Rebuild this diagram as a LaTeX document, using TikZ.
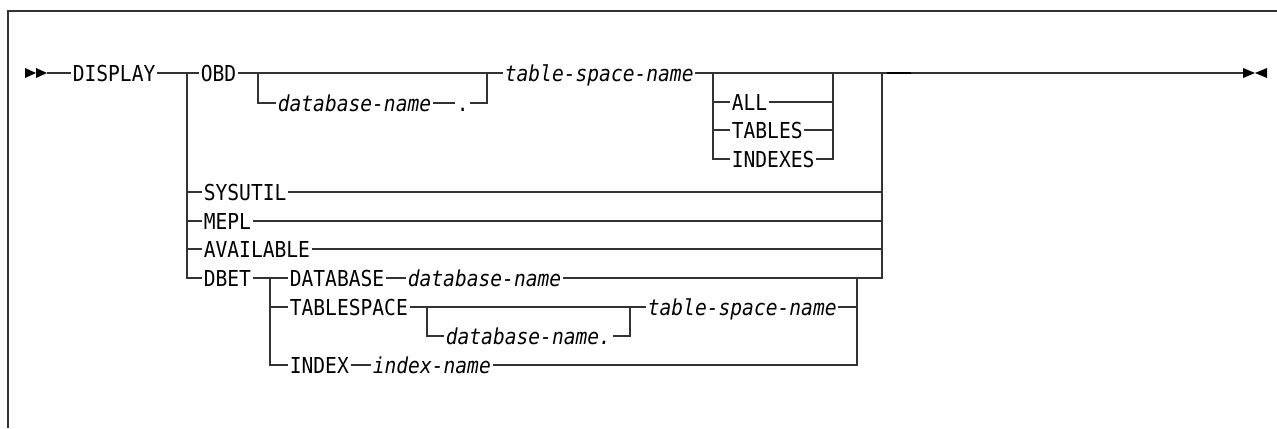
\documentclass[tikz,border=0pt]{standalone}
\usepackage{fontspec}
\usepackage{graphicx}
\newfontfamily\railfont{DejaVu Sans Mono}
\newcommand{\rw}[1]{\scalebox{1}[1.12]{#1}}

\begin{document}
\begin{tikzpicture}[x=0.5pt,y=-0.5pt,line width=0.8pt,draw=black!80,
    kw/.style={anchor=west,inner xsep=0.5pt,inner ysep=0pt,text height=8pt,text depth=0pt,
      font={\railfont\fontsize{9.8}{12}\selectfont}},
    var/.style={kw,font={\railfont\itshape\fontsize{9.8}{12}\selectfont}}]

      \useasboundingbox (0,0) rectangle (1277,428);

      % Frame
      \draw (8,428) -- (8,11) -- (1277,11);

      % Start and end marks
      \fill (25,68) -- (36,73) -- (25,78) -- cycle;
      \fill (36,68) -- (47,73) -- (36,78) -- cycle;
      \fill (1243,68) -- (1255,73) -- (1243,78) -- cycle;
      \fill (1267,68) -- (1255,73) -- (1267,78) -- cycle;
      \coordinate (start) at (47,73);
      \coordinate (finish) at (1243,73);

      % Junctions
      \coordinate (j1) at (187,73);
      \coordinate (j2) at (258,73);
      \coordinate (j3) at (487,73);
      \coordinate (j4) at (713,73);
      \coordinate (j5) at (833,73);
      \coordinate (j6) at (882,73);
      \coordinate (j7) at (270,278);
      \coordinate (j8) at (427,307);
      \coordinate (j9) at (630,307);
      \coordinate (j10) at (857,278);

      % Keywords and names
      \node[kw] (display) at (71,73) {\rw{DISPLAY}};
      \node[kw] (obd) at (199,73) {\rw{OBD}};
      \node[var] (dbname) at (276,103) {\rw{database-name}};
      \node[kw] (dot) at (455,103) {\rw{.}};
      \node[var] (tsname) at (503,73) {\rw{table-space-name}};
      \node[kw] (all) at (730,102) {\rw{ALL}};
      \node[kw] (tables) at (730,130) {\rw{TABLES}};
      \node[kw] (indexes) at (730,159) {\rw{INDEXES}};
      \node[kw] (sysutil) at (202,192) {\rw{SYSUTIL}};
      \node[kw] (mepl) at (202,221) {\rw{MEPL}};
      \node[kw] (avail) at (202,249) {\rw{AVAILABLE}};
      \node[kw] (dbet) at (202,278) {\rw{DBET}};
      \node[kw] (database) at (288,278) {\rw{DATABASE}};
      \node[var] (dbname2) at (406,278) {\rw{database-name}};
      \node[kw] (tblspace) at (288,307) {\rw{TABLESPACE}};
      \node[var] (dbname3) at (444,336) {\rw{database-name.}};
      \node[var] (tsname2) at (646,307) {\rw{table-space-name}};
      \node[kw] (index) at (288,365) {\rw{INDEX}};
      \node[var] (idxname) at (371,365) {\rw{index-name}};

      % Main line
      \draw (start) -- (display.west);
      \draw (display.east) -- (j1) -- (obd.west);
      \draw (obd.east) -- (j2) -- (j3) -- (tsname.west);
      \draw (j2) |- (dbname.west);
      \draw (dbname.east) -- (dot.west);
      \draw (dot.east) -| (j3);
      \draw (tsname.east) -- (j4) -- (j5) -- (j6) -- (finish);
      \draw[line width=1.4pt,black] (887,73) -- (911,73);

      % ALL / TABLES / INDEXES
      \foreach \n in {all,tables}
      {
          \draw (j4 |- \n.west) -- (\n.west);
          \draw (\n.east) -- (j5 |- \n.east);
      }
      \draw (j4) |- (indexes.west);
      \draw (indexes.east) -| (j5);

      % Left column
      \foreach \n in {sysutil,mepl,avail}
      {
          \draw (j1 |- \n.west) -- (\n.west);
          \draw (\n.east) -- (j6 |- \n.east);
      }
      \draw (j1) |- (dbet.west);

      % DBET
      \draw (dbet.east) -- (j7) -- (database.west);
      \draw (database.east) -- (dbname2.west);
      \draw (dbname2.east) -| (j6);
      \draw (j7 |- tblspace.west) -- (tblspace.west);
      \draw (tblspace.east) -- (j8) -- (j9) -- (tsname2.west);
      \draw (j8) |- (dbname3.west);
      \draw (dbname3.east) -| (j9);
      \draw (tsname2.east) -- (j10 |- tsname2.east);
      \draw (j7) |- (index.west);
      \draw (index.east) -- (idxname.west);
      \draw (idxname.east) -| (j10);

\end{tikzpicture}
\end{document}
